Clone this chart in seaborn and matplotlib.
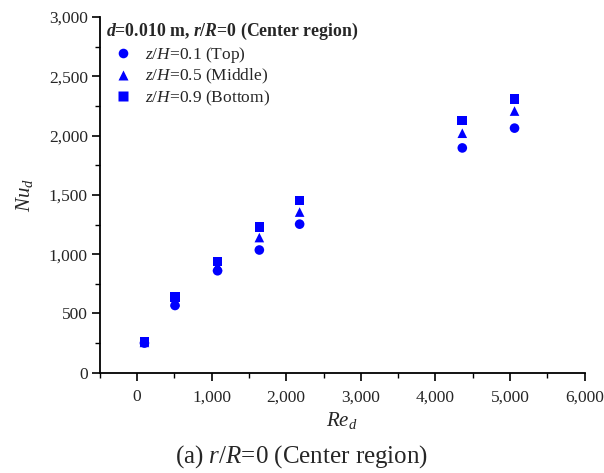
import matplotlib
matplotlib.use("Agg")
from matplotlib import pyplot as plt
from matplotlib.ticker import MultipleLocator, FuncFormatter
import seaborn as sns
import pandas as pd

# values
re_d = [100, 510, 1080, 1640, 2180, 4360, 5060]
nu_top = [250, 567, 860, 1035, 1253, 1896, 2063]
nu_middle = [256, 600, 900, 1140, 1355, 2020, 2207]
nu_bottom = [262, 638, 938, 1230, 1452, 2127, 2308]
series_names = [r"$z/H$=0.1 (Top)", r"$z/H$=0.5 (Middle)", r"$z/H$=0.9 (Bottom)"]

data = pd.DataFrame({
    "Re": re_d * 3,
    "Nu": nu_top + nu_middle + nu_bottom,
    "series": [series_names[0]] * 7 + [series_names[1]] * 7 + [series_names[2]] * 7,
})

sns.set_style("ticks")
plt.rcParams["font.family"] = ["Liberation Serif", "DejaVu Serif"]
plt.rcParams["mathtext.fontset"] = "custom"
plt.rcParams["mathtext.rm"] = "Liberation Serif"
plt.rcParams["mathtext.it"] = "Liberation Serif:italic"
plt.rcParams["mathtext.bf"] = "Liberation Serif:bold"
plt.rcParams["mathtext.bfit"] = "Liberation Serif:bold:italic"

fig = plt.figure(figsize=(6.04, 4.73), dpi=100)
ax = fig.add_axes([0.165, 0.212, 0.803, 0.752])

sns.scatterplot(data=data, x="Re", y="Nu", style="series", color="#0000ff",
                markers={series_names[0]: "o", series_names[1]: "^", series_names[2]: "s"},
                s=48, edgecolor="none", ax=ax)

ax.set_xlim(-500, 6000)
ax.set_ylim(0, 3000)
ax.xaxis.set_major_locator(MultipleLocator(1000))
ax.xaxis.set_minor_locator(MultipleLocator(500))
ax.yaxis.set_major_locator(MultipleLocator(500))
ax.yaxis.set_minor_locator(MultipleLocator(250))
fmt = FuncFormatter(lambda v, p: f"{int(v):,}")
ax.xaxis.set_major_formatter(fmt)
ax.yaxis.set_major_formatter(fmt)
ax.tick_params(which="major", direction="out", length=6, width=1.2, labelsize=12.5,
               color="black", pad=2.5)
ax.tick_params(which="minor", direction="out", length=3.5, width=1.0, color="black")
ax.tick_params(axis="x", which="major", pad=6)
for s in ["left", "bottom"]:
    ax.spines[s].set_linewidth(1.3)
    ax.spines[s].set_color("black")
sns.despine(ax=ax)

ax.set_xlabel(r"$Re_{d}$", fontsize=15, labelpad=3)
ax.set_ylabel(r"$Nu_{d}$", fontsize=15, labelpad=10)

leg = ax.legend(title=r"$\mathbfit{d}$=0.010 m, $\mathbfit{r}$/$\mathbfit{R}$=0 (Center region)",
                loc="upper left", bbox_to_anchor=(0.005, 0.998), frameon=False,
                fontsize=12.5, handlelength=2.0, handletextpad=0.25,
                borderaxespad=0.0, borderpad=0.2, labelspacing=0.12)
leg.get_title().set_fontweight("bold")
leg.get_title().set_fontsize(12.8)
leg._legend_box.align = "left"
leg._legend_box.sep = 2

fig.text(0.5, 0.022, r"(a) $r$/$R$=0 (Center region)", ha="center", fontsize=18)

plt.savefig("out.png", dpi=100)
